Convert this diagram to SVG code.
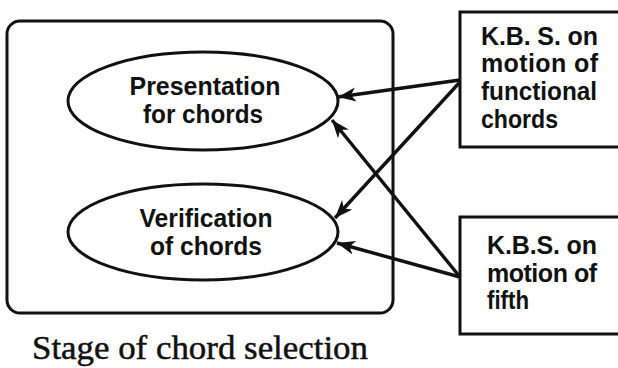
<svg xmlns="http://www.w3.org/2000/svg" width="618" height="368" viewBox="0 0 618 368">
  <style>
    .shape { fill: none; stroke: #111; stroke-width: 3; }
    .lbl { font-family: "Liberation Sans", Arial, sans-serif; font-weight: bold; font-size: 25px; fill: #111; }
    .cap { font-family: "Liberation Serif", "Times New Roman", serif; font-size: 34px; fill: #111; stroke: #111; stroke-width: 0.5; }
    .conn { stroke: #111; stroke-width: 3.4; fill: none; }
  </style>
  <defs>
    <marker id="arr" markerUnits="userSpaceOnUse" markerWidth="20" markerHeight="16" refX="18" refY="7" orient="auto">
      <path d="M0,0 L18,7 L0,14 L5,7 z" fill="#111"/>
    </marker>
  </defs>
  <rect width="618" height="368" fill="#ffffff"/>

  <g id="stage">
    <rect class="shape" x="7" y="21" width="386" height="292" rx="13" ry="13"/>
    <text class="cap" x="32" y="359" textLength="336" lengthAdjust="spacingAndGlyphs">Stage of chord selection</text>
  </g>

  <g id="presentation">
    <ellipse class="shape" cx="203" cy="101" rx="135" ry="49"/>
    <text class="lbl" x="205" y="95" text-anchor="middle" textLength="151" lengthAdjust="spacingAndGlyphs">Presentation</text>
    <text class="lbl" x="203" y="123" text-anchor="middle" textLength="120" lengthAdjust="spacingAndGlyphs">for chords</text>
  </g>

  <g id="verification">
    <ellipse class="shape" cx="203" cy="232" rx="135" ry="48"/>
    <text class="lbl" x="206" y="227" text-anchor="middle" textLength="133" lengthAdjust="spacingAndGlyphs">Verification</text>
    <text class="lbl" x="206" y="255" text-anchor="middle" textLength="112" lengthAdjust="spacingAndGlyphs">of chords</text>
  </g>

  <g id="kbs-functional">
    <rect class="shape" x="460" y="12" width="162" height="135"/>
    <text class="lbl" x="481" y="45" textLength="117" lengthAdjust="spacing">K.B. S. on</text>
    <text class="lbl" x="481" y="72" textLength="117" lengthAdjust="spacing">motion  of</text>
    <text class="lbl" x="481" y="100" textLength="116" lengthAdjust="spacingAndGlyphs">functional</text>
    <text class="lbl" x="481" y="128" textLength="77" lengthAdjust="spacingAndGlyphs">chords</text>
  </g>

  <g id="kbs-fifth">
    <rect class="shape" x="460" y="217" width="162" height="117"/>
    <text class="lbl" x="487" y="254" textLength="110" lengthAdjust="spacing">K.B.S.  on</text>
    <text class="lbl" x="487" y="282" textLength="110" lengthAdjust="spacing">motion of</text>
    <text class="lbl" x="487" y="309" textLength="42" lengthAdjust="spacingAndGlyphs">fifth</text>
  </g>

  <g id="connectors">
    <line class="conn" x1="460" y1="80" x2="338" y2="97" marker-end="url(#arr)"/>
    <line class="conn" x1="460" y1="82" x2="335" y2="218" marker-end="url(#arr)"/>
    <line class="conn" x1="460" y1="277" x2="332" y2="120" marker-end="url(#arr)"/>
    <line class="conn" x1="460" y1="277" x2="337" y2="243" marker-end="url(#arr)"/>
  </g>
</svg>
